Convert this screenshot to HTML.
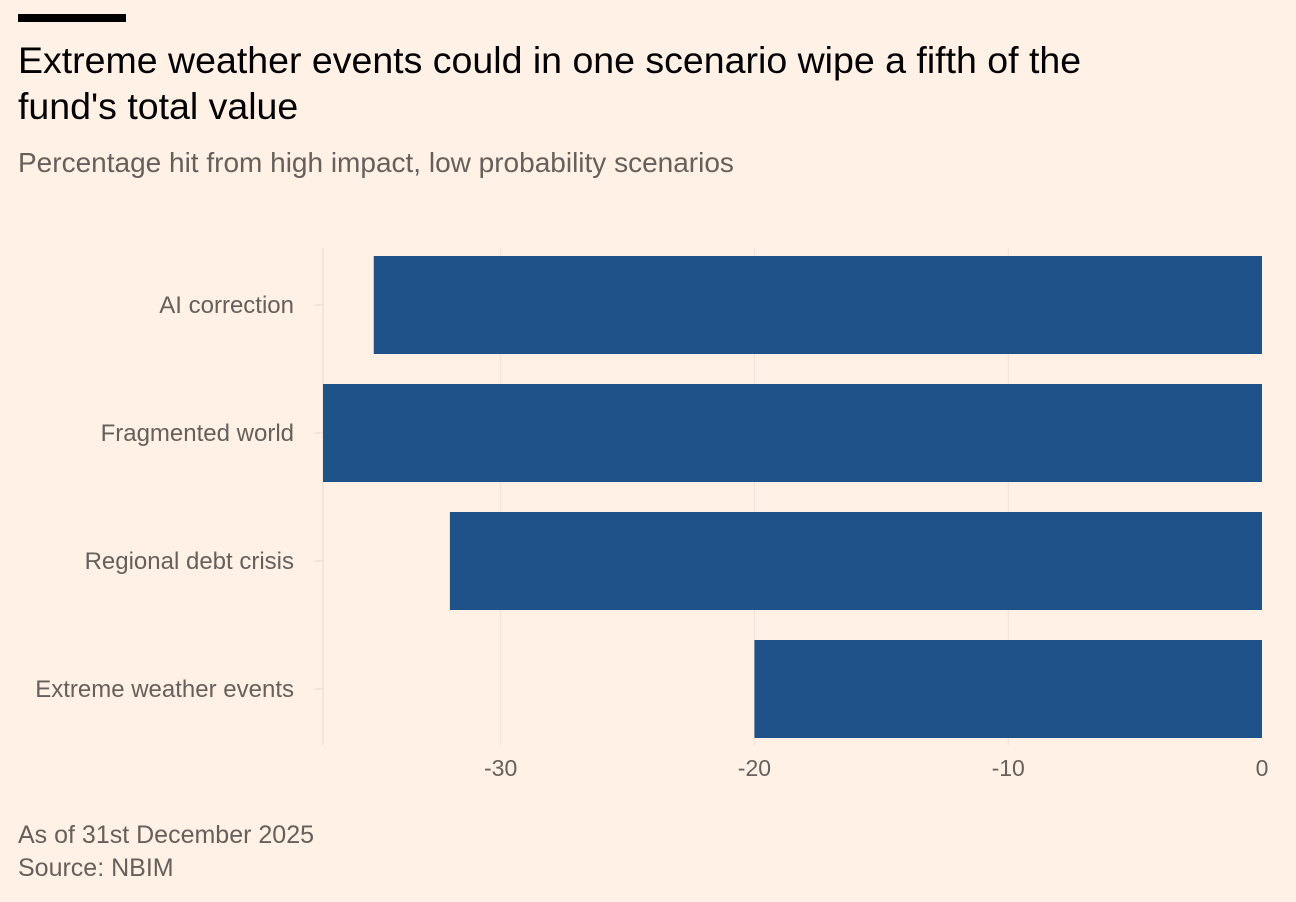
<!DOCTYPE html>
<html><head><meta charset="utf-8"><style>
body{margin:0;background:#fff1e5;font-family:"Liberation Sans",sans-serif;}
#wrap{position:relative;width:1296px;height:902px;overflow:hidden;background:#fff1e5;}
.t{position:absolute;left:18px;}
</style></head><body>
<div id="wrap">
<div style="position:absolute;left:18px;top:14px;width:108px;height:8px;background:#000"></div>
<div class="t" style="top:37px;font-size:37.5px;line-height:46px;color:#000;width:1100px">Extreme weather events could in one scenario wipe a fifth of the fund's total value</div>
<div class="t" style="top:147px;font-size:28px;color:#66605c">Percentage hit from high impact, low probability scenarios</div>
<svg id="chart" width="1296" height="902" style="position:absolute;left:0;top:0"></svg>
<div class="t" style="top:821px;font-size:25px;color:#66605c">As of 31st December 2025</div>
<div class="t" style="top:854px;font-size:25px;color:#66605c">Source: NBIM</div>
</div>
<script>
const categories=["AI correction","Fragmented world","Regional debt crisis","Extreme weather events"];
const values=[-35,-37,-32,-20];
const ticks=[-30,-20,-10,0];
const ns="http://www.w3.org/2000/svg";
const svg=document.getElementById('chart');
const x0=323,x1=1262,dmin=-37,dmax=0;
const x=v=>x0+(v-dmin)/(dmax-dmin)*(x1-x0);
const plotTop=241,band=128,bh=98;
const y=i=>plotTop+i*band+(band-bh)/2;
function mk(t,a){const e=document.createElementNS(ns,t);for(const k in a)e.setAttribute(k,a[k]);svg.appendChild(e);return e;}
ticks.forEach(t=>{
 if(t!==0){const g=mk('line',{x1:x(t),x2:x(t),y1:248,y2:745,stroke:'#ebe2d9','stroke-width':1});
 
 }
 const l=mk('text',{x:x(t),y:776,'text-anchor':'middle','font-size':23,fill:'#66605c'});
 l.textContent=t;
 
 
});
const ax=mk('line',{x1:x0,x2:x0,y1:248,y2:745,stroke:'#e6d9ce','stroke-width':1});


categories.forEach((c,i)=>{
 const tk=mk('line',{x1:x0-8,x2:x0,y1:y(i)+bh/2,y2:y(i)+bh/2,stroke:'#e6d9ce'});
 
 
 const r=mk('rect',{x:x(values[i]),y:y(i),width:x(0)-x(values[i]),height:bh,fill:'#1f5289'});
 
 
 const l=mk('text',{x:294,y:y(i)+bh/2+8,'text-anchor':'end','font-size':24,fill:'#66605c'});
 l.textContent=c;
 
 
});
</script>
</body></html>
